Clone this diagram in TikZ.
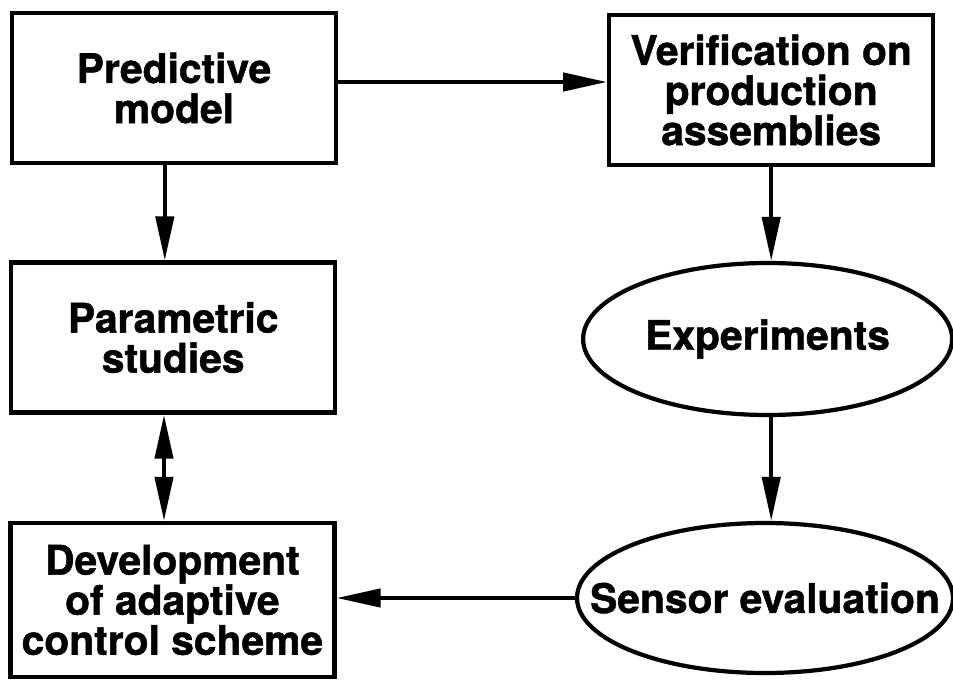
\documentclass[tikz,border=0pt]{standalone}
\usepackage{fontspec}
\setmainfont{TeX Gyre Heros}[BoldFeatures={FakeBold=1.2}]
\usepackage{tikz}
\usetikzlibrary{arrows.meta, positioning, shapes.geometric}

\begin{document}
\begin{tikzpicture}[
  font=\bfseries\fontsize{29}{28.5}\selectfont,
  box/.style={rectangle, draw, line width=3pt, minimum width=8.1cm,
              minimum height=3.75cm, align=center, inner sep=0pt},
  oval/.style={ellipse, draw, line width=3pt, minimum height=3.8cm,
               inner sep=0pt},
  arr/.style={-{Triangle[length=1.1cm, width=0.45cm]}, line width=3pt},
  dblarr/.style={arr, {Triangle[length=1.1cm, width=0.45cm]}-{Triangle[length=1.1cm, width=0.45cm]}},
  ]
  \useasboundingbox (0,0) rectangle (23.825,-16.975);

  %% Nodes: left column of boxes, right column box + two ovals
  \node[box] (pred)   at (4.35,  -2.2)  {Predictive\\model};
  \node[box] (verif)  at (19.28, -2.25) {Verification on\\production\\assemblies};
  \node[box] (param)  at (4.33,  -8.44) {Parametric\\studies};
  \node[box, minimum height=3.85cm] (dev) at (4.31, -15.0)
        {Development\\of adaptive\\control scheme};
  \node[oval, minimum width=9.225cm, label=center:{Experiments}] (exper)
        at (19.19, -8.475) {};
  \node[oval, minimum width=9.4cm, minimum height=3.75cm,
        label=center:{Sensor evaluation}] (sensor) at (19.125, -14.95) {};

  %% Connectors
  \draw[arr] ([yshift=0.15cm]pred.east) -- ([yshift=0.15cm]pred.east -| verif.west);
  \draw[arr] ([xshift=-0.23cm]pred.south) -- ([xshift=-0.23cm]pred.south |- param.north);
  \draw[dblarr] ([xshift=-0.23cm]param.south) -- ([xshift=-0.23cm]param.south |- dev.north);
  \draw[arr] (verif.south) -- (verif.south |- exper.north);
  \draw[arr] (exper.south -| verif.south) -- (sensor.north -| verif.south);
  \draw[arr] (sensor.west) -- (sensor.west -| dev.east);
\end{tikzpicture}
\end{document}
